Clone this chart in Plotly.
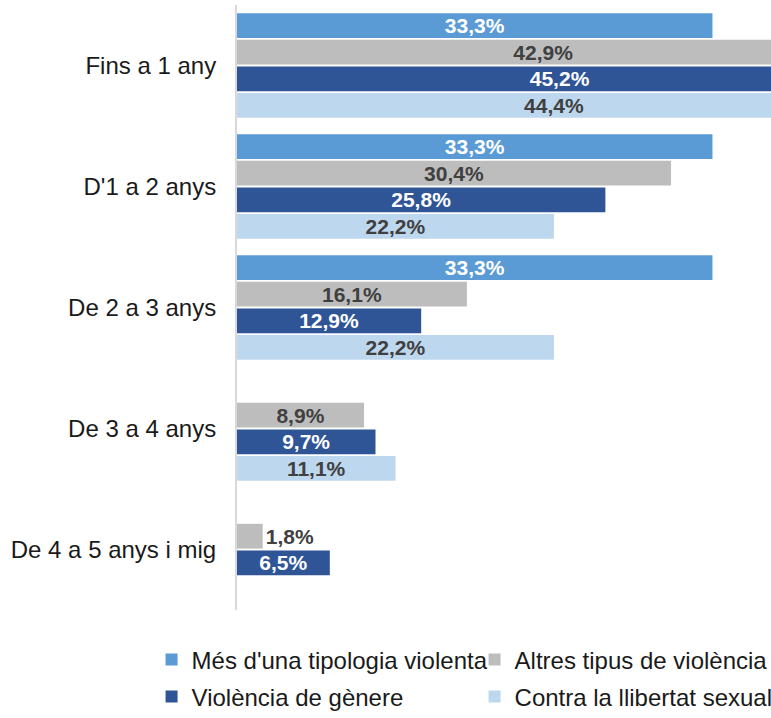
import plotly.graph_objects as go

categories = ["Fins a 1 any", "D'1 a 2 anys", "De 2 a 3 anys", "De 3 a 4 anys", "De 4 a 5 anys i mig"]
series_names = ["Més d'una tipologia violenta", "Altres tipus de violència", "Violència de gènere", "Contra la llibertat sexual"]
mes_duna = [33.3, 33.3, 33.3, None, None]
altres = [42.9, 30.4, 16.1, 8.9, 1.8]
genere = [45.2, 25.8, 12.9, 9.7, 6.5]
llibertat = [44.4, 22.2, 22.2, 11.1, None]

colors = ["#5B9BD5", "#BDBDBD", "#2F5597", "#BDD7EE"]
text_colors = ["#FFFFFF", "#404040", "#FFFFFF", "#404040"]
legend_ids = ["legend", "legend", "legend2", "legend2"]

def fmt(v):
    return "" if v is None else f"{v:.1f}".replace(".", ",") + "%"

fig = go.Figure()
for name, vals, c, tc, lg in zip(series_names, [mes_duna, altres, genere, llibertat], colors, text_colors, legend_ids):
    fig.add_trace(go.Bar(
        y=categories, x=vals, name=name, orientation="h",
        marker=dict(color=c, line=dict(width=0)),
        text=[fmt(v) for v in vals], textposition="auto",
        insidetextanchor="middle", constraintext="none",
        insidetextfont=dict(family="Liberation Sans", size=21, color=tc, weight="bold"),
        outsidetextfont=dict(family="Liberation Sans", size=21, color="#404040", weight="bold"),
        textangle=0, cliponaxis=True, hoverinfo="skip", legend=lg,
    ))

leg_common = dict(orientation="h", xanchor="left", yanchor="middle",
                  font=dict(size=24, color="#1a1a1a"), entrywidth=278, entrywidthmode="pixels",
                  itemclick=False, itemdoubleclick=False, traceorder="normal", bgcolor="rgba(0,0,0,0)")

fig.update_layout(
    width=771, height=718,
    margin=dict(l=237, r=0, t=5, b=108, autoexpand=False),
    barmode="group", bargap=0.12, bargroupgap=0.07,
    plot_bgcolor="white", paper_bgcolor="white",
    font=dict(family="Liberation Sans", size=24, color="#1a1a1a"),
    xaxis=dict(range=[0, 37.4], showticklabels=False, showgrid=False, zeroline=False, showline=False,
               fixedrange=True, automargin=False),
    yaxis=dict(autorange="reversed", showline=True, linecolor="#D9D9D9", linewidth=2, automargin=False,
               fixedrange=True, ticks="", ticklabelstandoff=14, tickfont=dict(size=24, color="#1a1a1a")),
    showlegend=True,
    hovermode=False,
    legend=dict(x=-0.16, y=-0.0826, **leg_common),
    legend2=dict(x=-0.16, y=-0.1438, **leg_common),
)

fig.write_html("out.html", config={"displayModeBar": False, "staticPlot": False},
               post_script="document.body.style.margin='0';document.body.style.overflow='hidden';")
